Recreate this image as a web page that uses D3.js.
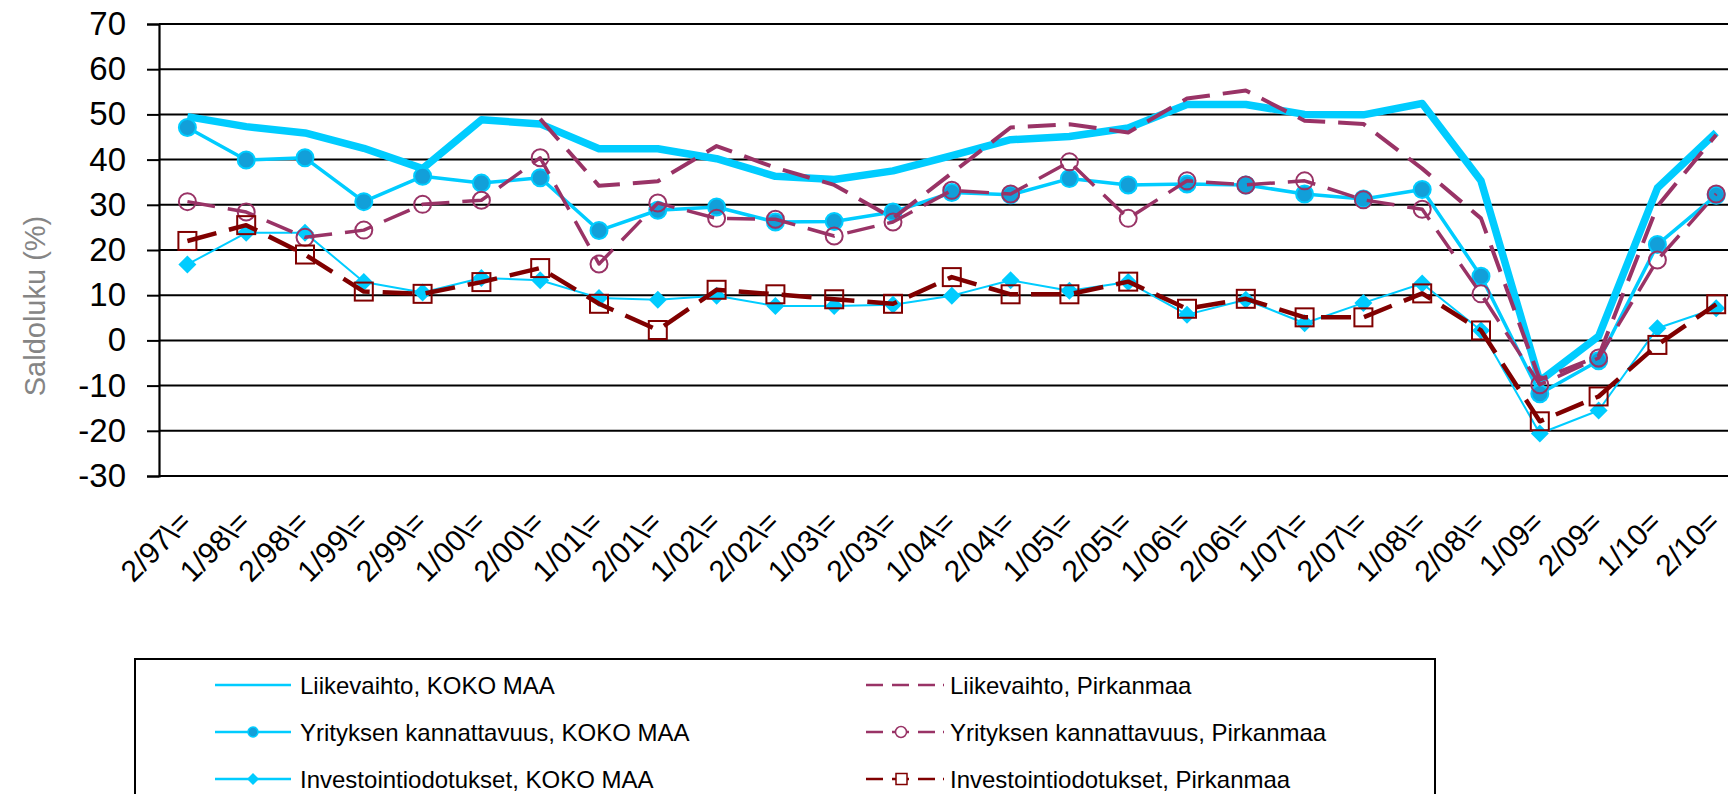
<!DOCTYPE html>
<html><head><meta charset="utf-8">
<script src="https://cdn.jsdelivr.net/npm/d3@7"></script>
<style>body{margin:0;background:#fff;} svg{display:block;font-family:"Liberation Sans",Arial,sans-serif;}</style>
</head><body><svg id="c" width="1728" height="794"></svg>
<script>
const categories = ["2/97\\=","1/98\\=","2/98\\=","1/99\\=","2/99\\=","1/00\\=","2/00\\=","1/01\\=","2/01\\=","1/02\\=","2/02\\=","1/03\\=","2/03\\=","1/04\\=","2/04\\=","1/05\\=","2/05\\=","1/06\\=","2/06\\=","1/07\\=","2/07\\=","1/08\\=","2/08\\=","1/09=","2/09=","1/10=","2/10="];
const yTicks = [70,60,50,40,30,20,10,0,-10,-20,-30];
const liikevaihtoKoko = [49.5,47.3,45.9,42.5,38,48.8,47.9,42.4,42.4,40.2,36.3,35.6,37.5,40.9,44.4,45.1,47,52.2,52.2,50,49.9,52.4,35.3,-9,0.9,33.7,46];
const kannattavuusKoko = [47.1,39.9,40.4,30.7,36.3,34.8,36,24.3,28.8,29.5,26.2,26.3,28.4,32.7,32.2,35.8,34.4,34.6,34.4,32.4,31.3,33.4,14.2,-11.8,-4.5,21.2,32.1];
const investKoko = [16.8,23.8,23.8,12.9,10.6,13.8,13.3,9.4,9,9.9,7.6,7.6,7.9,9.9,13.3,11,12.9,5.7,9,3.8,8.3,12.6,2.2,-20.6,-15.5,2.7,7.1];
const liikevaihtoPirk = [null,null,null,null,null,null,49,34.2,35.2,43,38.2,34.4,27,37,47.1,47.8,46,53.5,55.3,48.6,47.9,38,27,-8.7,-3.5,29.7,45.5];
const kannattavuusPirk = [30.7,28.4,22.8,24.4,30.1,31,40.4,16.9,30.4,27,26.8,23.1,26.2,33.2,32.4,39.5,27,35.3,34.4,35.3,31.1,29,10.3,-9.8,-3.9,17.8,32.4];
const investPirk = [22,25.5,19,10.8,10.3,12.9,16,8.1,2.3,11.2,10.2,9.1,8.1,14,10.2,10.2,13,7,9.2,5.1,5.1,10.4,2.2,-17.9,-12.4,-1,8];
const seriesNames = ["Liikevaihto, KOKO MAA","Yrityksen kannattavuus, KOKO MAA","Investointiodotukset, KOKO MAA","Liikevaihto, Pirkanmaa","Yrityksen kannattavuus, Pirkanmaa","Investointiodotukset, Pirkanmaa"];
const yTitle = "Saldoluku (%)";

const W = 1728, H = 794;
const axisX = 159;
const svg = d3.select("#c");
const x = d3.scalePoint().domain(categories).range([158, 158 + 27 * 58.8]).padding(0.5);
const y = d3.scaleLinear().domain([-30, 70]).range([476, 24]);

// gridlines
svg.append("g").selectAll("line").data(yTicks).join("line")
  .attr("x1", axisX).attr("x2", W).attr("y1", d => y(d)).attr("y2", d => y(d))
  .attr("stroke", "#000").attr("stroke-width", 2);

// y axis
const ya = svg.append("g").attr("transform", `translate(${axisX},0)`)
  .call(d3.axisLeft(y).tickValues(yTicks).tickSize(12).tickPadding(21).tickFormat(d => String(d)));
ya.select(".domain").attr("stroke", "#000").attr("stroke-width", 2.2);
ya.selectAll(".tick line").attr("stroke", "#000").attr("stroke-width", 2);
ya.selectAll(".tick text").attr("font-size", 33).attr("fill", "#000").attr("font-family", "Liberation Sans, Arial, sans-serif");

// x axis labels
const xa = svg.append("g").attr("transform", `translate(0,${y(-30)})`)
  .call(d3.axisBottom(x).tickSize(0));
xa.select(".domain").remove();
xa.selectAll(".tick text").attr("font-size", 30).attr("fill", "#000")
  .attr("font-family", "Liberation Sans, Arial, sans-serif")
  .attr("text-anchor", "end").attr("x", 0).attr("y", 0).attr("dy", 0)
  .attr("transform", "translate(5,48) rotate(-45)");

// y title
svg.append("text").attr("transform", "translate(45,306) rotate(-90)")
  .attr("text-anchor", "middle").attr("font-size", 29).attr("fill", "#858585").text(yTitle);

const line = d3.line().defined(d => d.v != null).x(d => x(d.c)).y(d => y(d.v));
const pts = arr => arr.map((v, i) => ({c: categories[i], v: v}));
const g = svg.append("g");

function drawLine(arr, color, width, dash) {
  const p = g.append("path").datum(pts(arr)).attr("fill", "none").attr("stroke", color)
    .attr("stroke-width", width).attr("stroke-linejoin", "round").attr("d", line);
  if (dash) p.attr("stroke-dasharray", dash);
}
function circles(arr, r, fill, stroke, sw) {
  g.append("g").selectAll("circle").data(pts(arr).filter(d => d.v != null)).join("circle")
    .attr("cx", d => x(d.c)).attr("cy", d => y(d.v)).attr("r", r)
    .attr("fill", fill).attr("stroke", stroke).attr("stroke-width", sw);
}
function diamonds(arr, s, fill) {
  g.append("g").selectAll("path").data(pts(arr)).join("path")
    .attr("d", d => { const cx = x(d.c), cy = y(d.v); return `M${cx},${cy - s}L${cx + s},${cy}L${cx},${cy + s}L${cx - s},${cy}Z`; })
    .attr("fill", fill);
}
function squares(arr, s, stroke) {
  g.append("g").selectAll("rect").data(pts(arr)).join("rect")
    .attr("x", d => x(d.c) - s / 2).attr("y", d => y(d.v) - s / 2).attr("width", s).attr("height", s)
    .attr("fill", "none").attr("stroke", stroke).attr("stroke-width", 2);
}

const cyan = "#00ccff", blue = "#129fd9", purple = "#993366", darkred = "#800000";
drawLine(liikevaihtoKoko, cyan, 7.5);
drawLine(kannattavuusKoko, cyan, 3.5);
circles(kannattavuusKoko, 8.5, blue, cyan, 2);
drawLine(investKoko, cyan, 2);
diamonds(investKoko, 9, cyan);
drawLine(liikevaihtoPirk, purple, 4, "28,13");
drawLine(kannattavuusPirk, purple, 3.5, "28,13");
circles(kannattavuusPirk, 8.5, "none", purple, 2);
drawLine(investPirk, darkred, 4.5, "30,13");
squares(investPirk, 18, darkred);

// legend
const lg = svg.append("g");
lg.append("rect").attr("x", 135).attr("y", 659).attr("width", 1300).attr("height", 200)
  .attr("fill", "#fff").attr("stroke", "#000").attr("stroke-width", 2);
const rowsY = [685, 732, 779];
const leg = [
  {n: seriesNames[0], col: 0, row: 0, c: cyan, m: null},
  {n: seriesNames[1], col: 0, row: 1, c: cyan, m: "circleFill"},
  {n: seriesNames[2], col: 0, row: 2, c: cyan, m: "diamond"},
  {n: seriesNames[3], col: 1, row: 0, c: purple, m: null},
  {n: seriesNames[4], col: 1, row: 1, c: purple, m: "circle"},
  {n: seriesNames[5], col: 1, row: 2, c: darkred, m: "square"}
];
const lx = [[215, 291, 300], [866, 944, 950]];
leg.forEach(e => {
  const [x1, x2, tx] = lx[e.col];
  const cy = rowsY[e.row];
  const l = lg.append("line").attr("x1", x1).attr("x2", x2).attr("y1", cy).attr("y2", cy)
    .attr("stroke", e.c).attr("stroke-width", 2.5);
  if (e.col) l.attr("stroke-dasharray", "17,9,17,9,17,8,2,20");
  const mx = (x1 + x2) / 2;
  if (e.m === "circleFill") lg.append("circle").attr("cx", mx).attr("cy", cy).attr("r", 5).attr("fill", blue).attr("stroke", cyan).attr("stroke-width", 1.5);
  if (e.m === "diamond") lg.append("path").attr("d", `M${mx},${cy - 6}L${mx + 6},${cy}L${mx},${cy + 6}L${mx - 6},${cy}Z`).attr("fill", cyan);
  if (e.m === "circle") lg.append("circle").attr("cx", mx - 4).attr("cy", cy).attr("r", 5.5).attr("fill", "#fff").attr("stroke", purple).attr("stroke-width", 1.5);
  if (e.m === "square") lg.append("rect").attr("x", mx - 9).attr("y", cy - 5.5).attr("width", 11).attr("height", 11).attr("fill", "#fff").attr("stroke", darkred).attr("stroke-width", 1.5);
  lg.append("text").attr("x", tx).attr("y", cy + 8.5).attr("font-size", 24).attr("fill", "#000").text(e.n);
});
</script></body></html>
